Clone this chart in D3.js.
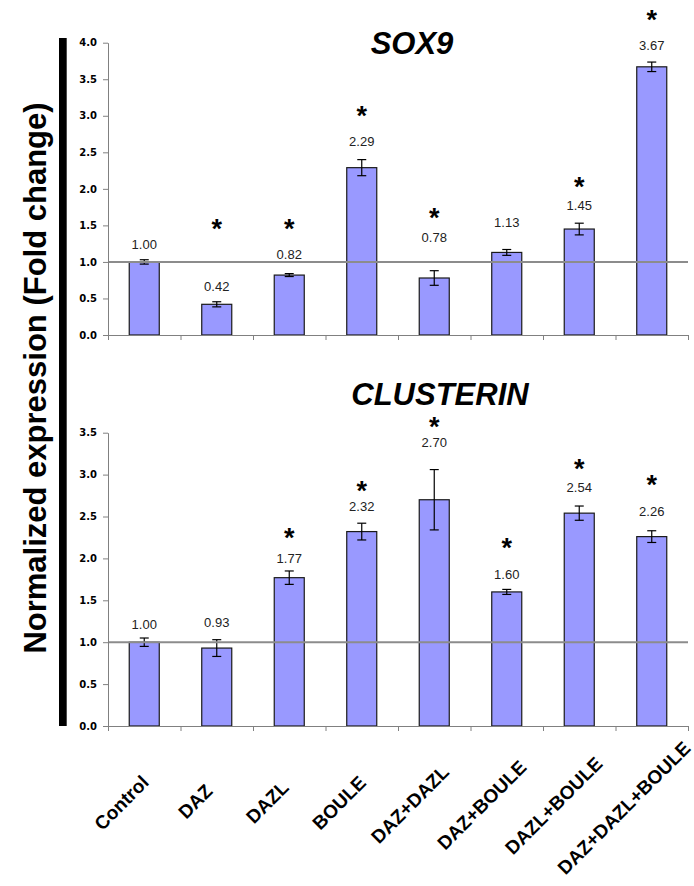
<!DOCTYPE html>
<html><head><meta charset="utf-8">
<script src="https://cdn.jsdelivr.net/npm/d3@7"></script>
<style>body{margin:0;background:#fff}</style>
</head><body>
<svg id="c" width="694" height="886" xmlns="http://www.w3.org/2000/svg"></svg>
<script>
const categories = ["Control","DAZ","DAZL","BOULE","DAZ+DAZL","DAZ+BOULE","DAZL+BOULE","DAZ+DAZL+BOULE"];
const sox9Values = [1.00,0.42,0.82,2.29,0.78,1.13,1.45,3.67];
const sox9Errors = [0.03,0.035,0.02,0.11,0.10,0.04,0.08,0.065];
const clusterinValues = [1.00,0.93,1.77,2.32,2.70,1.60,2.54,2.26];
const clusterinErrors = [0.05,0.10,0.08,0.10,0.36,0.03,0.085,0.07];
const sox9Ticks = [0,0.5,1,1.5,2,2.5,3,3.5,4];
const clusterinTicks = [0,0.5,1,1.5,2,2.5,3,3.5];
// annotation heights (in value units)
const sox9LabelAt = [1.176,0.60,1.04,2.59,1.27,1.48,1.71,3.90];
const sox9StarAt = [null,1.536,1.536,3.08,1.68,null,2.11,4.39];
const clusterinLabelAt = [1.157,1.18,1.94,2.56,3.33,1.75,2.79,2.51];
const clusterinStarAt = [null,null,2.31,2.88,3.64,2.19,3.14,2.95];

const svg = d3.select("#c");
const X0 = 108, X1 = 688;
const x = d3.scaleBand().domain(categories).range([X0, X1]).paddingInner(0.586).paddingOuter(0.293);
const xb = d3.scaleLinear().domain([0, categories.length]).range([X0, X1]);
const cx = d => x(d) + x.bandwidth() / 2;

function panel(o) {
  const y = d3.scaleLinear().domain([0, o.max]).range([o.bottom, o.top]);
  const g = svg.append("g");
  g.selectAll("rect.bar").data(categories).join("rect")
    .attr("x", d => x(d)).attr("width", x.bandwidth())
    .attr("y", (d, i) => y(o.values[i])).attr("height", (d, i) => y(0) - y(o.values[i]))
    .attr("fill", "#9999FF").attr("stroke", "#1a1a1a").attr("stroke-width", 1.2);
  const eb = g.selectAll("g.err").data(categories).join("g");
  eb.append("line").attr("x1", d => cx(d)).attr("x2", d => cx(d))
    .attr("y1", (d, i) => y(o.values[i] + o.errors[i])).attr("y2", (d, i) => y(o.values[i] - o.errors[i]));
  eb.append("line").attr("x1", d => cx(d) - 4.5).attr("x2", d => cx(d) + 4.5)
    .attr("y1", (d, i) => y(o.values[i] + o.errors[i])).attr("y2", (d, i) => y(o.values[i] + o.errors[i]));
  eb.append("line").attr("x1", d => cx(d) - 4.5).attr("x2", d => cx(d) + 4.5)
    .attr("y1", (d, i) => y(o.values[i] - o.errors[i])).attr("y2", (d, i) => y(o.values[i] - o.errors[i]));
  eb.selectAll("line").attr("stroke", "#000").attr("stroke-width", 1.2);
  g.append("line").attr("x1", X0).attr("x2", X1).attr("y1", y(1)).attr("y2", y(1))
    .attr("stroke", "#8c8c8c").attr("stroke-width", 2);
  const ya = g.append("g").attr("transform", `translate(${X0},0)`)
    .call(d3.axisLeft(y).tickValues(o.ticks).tickFormat(d3.format(".1f")).tickSize(5).tickSizeOuter(0).tickPadding(6));
  ya.select(".domain").attr("stroke", "#808080");
  ya.selectAll(".tick line").attr("stroke", "#808080");
  ya.selectAll(".tick text").attr("font-family", "DejaVu Sans, Arial, sans-serif").attr("font-weight", "bold")
    .attr("font-size", 10).attr("fill", "#000");
  const xa = g.append("g").attr("transform", `translate(0,${o.bottom})`)
    .call(d3.axisBottom(xb).tickValues(d3.range(categories.length + 1)).tickFormat("").tickSize(5).tickSizeOuter(0));
  xa.select(".domain").attr("stroke", "#808080");
  xa.selectAll(".tick line").attr("stroke", "#808080");
  g.selectAll("text.val").data(categories).join("text")
    .attr("x", d => cx(d)).attr("y", (d, i) => y(o.labelAt[i]))
    .attr("text-anchor", "middle").attr("font-family", "Liberation Sans, Arial, sans-serif")
    .attr("font-size", 13).attr("fill", "#222")
    .text((d, i) => o.values[i].toFixed(2));
  g.selectAll("text.star").data(categories.filter((d, i) => o.starAt[i] != null)).join("text")
    .attr("x", d => cx(d))
    .attr("y", d => y(o.starAt[categories.indexOf(d)]) + 15)
    .attr("text-anchor", "middle").attr("font-family", "Liberation Sans, Arial, sans-serif")
    .attr("font-weight", "bold").attr("font-size", 27).attr("fill", "#000").text("*");
  g.append("text").attr("x", o.titleX).attr("y", o.titleY).attr("text-anchor", "middle")
    .attr("font-family", "Liberation Sans, Arial, sans-serif").attr("font-weight", "bold")
    .attr("font-style", "italic").attr("font-size", 31).text(o.title);
  return y;
}

panel({values: sox9Values, errors: sox9Errors, ticks: sox9Ticks, labelAt: sox9LabelAt, starAt: sox9StarAt,
  max: 4, top: 42.7, bottom: 335, title: "SOX9", titleX: 412, titleY: 53.5});
panel({values: clusterinValues, errors: clusterinErrors, ticks: clusterinTicks, labelAt: clusterinLabelAt, starAt: clusterinStarAt,
  max: 3.5, top: 432.7, bottom: 726, title: "CLUSTERIN", titleX: 440, titleY: 405});

svg.append("g").selectAll("text").data(categories).join("text")
  .attr("transform", d => `translate(${cx(d) - 22},802) rotate(-45)`)
  .attr("text-anchor", "middle").attr("dy", "0.35em")
  .attr("font-family", "Liberation Sans, Arial, sans-serif").attr("font-weight", "bold")
  .attr("font-size", 19).attr("fill", "#000").text(d => d)
  .attr("x", function() { return -0.065 * (this.getComputedTextLength() - 50); });

svg.append("rect").attr("x", 59).attr("y", 38).attr("width", 7.7).attr("height", 688).attr("fill", "#000");
svg.append("text").attr("transform", "translate(45.5,378) rotate(-90)")
  .attr("text-anchor", "middle").attr("font-family", "Liberation Sans, Arial, sans-serif")
  .attr("font-weight", "bold").attr("font-size", 31).attr("fill", "#000")
  .text("Normalized expression (Fold change)");
</script>
</body></html>
